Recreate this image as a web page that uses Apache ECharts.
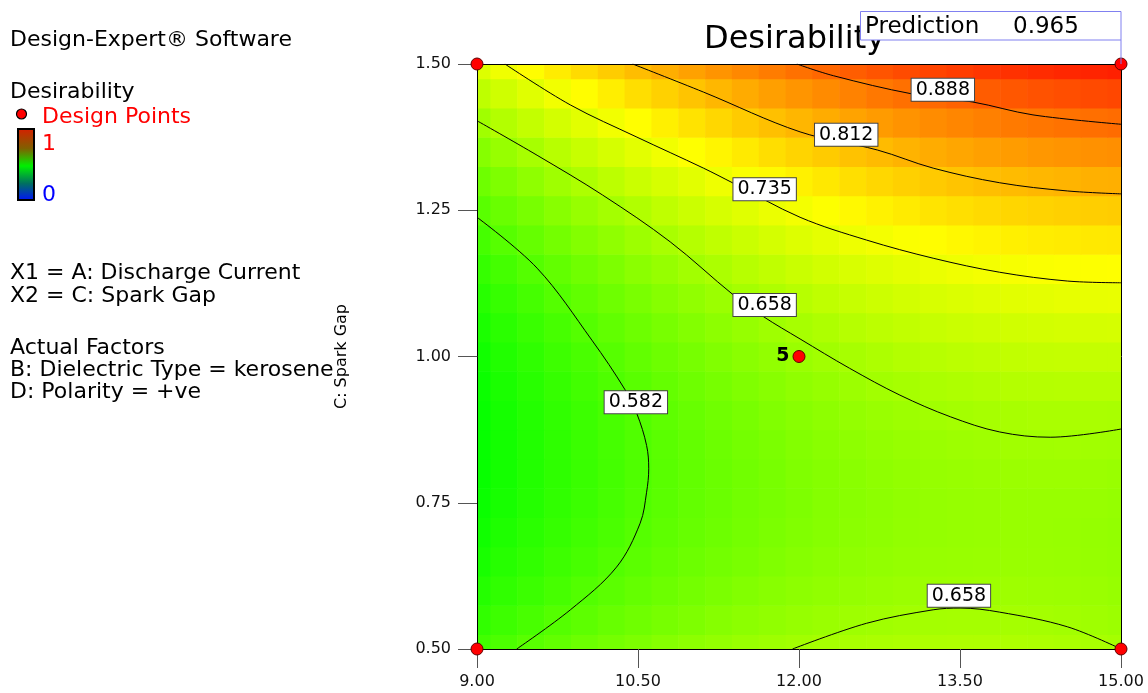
<!DOCTYPE html>
<html>
<head>
<meta charset="utf-8">
<script src="https://cdn.jsdelivr.net/npm/echarts@6/dist/echarts.min.js"></script>
<style>
html,body{margin:0;padding:0;background:#fff;}
#chart{width:1148px;height:693px;}
</style>
</head>
<body>
<div id="chart"></div>
<script>
// ---------- data ----------
const gridX = [9.00,9.25,9.50,9.75,10.00,10.25,10.50,10.75,11.00,11.25,11.50,11.75,12.00,12.25,12.50,12.75,13.00,13.25,13.50,13.75,14.00,14.25,14.50,14.75,15.00];
const gridY = [0.50,0.55,0.60,0.65,0.70,0.75,0.80,0.85,0.90,0.95,1.00,1.05,1.10,1.15,1.20,1.25,1.30,1.35,1.40,1.45,1.50];
// desirability estimated at each grid node; one row per gridY value (bottom to top)
const desirabilityRows = [
  [0.564,0.575,0.586,0.596,0.606,0.615,0.623,0.631,0.638,0.644,0.650,0.655,0.659,0.663,0.666,0.668,0.670,0.671,0.672,0.672,0.671,0.670,0.668,0.665,0.662],
  [0.548,0.560,0.571,0.582,0.591,0.601,0.609,0.617,0.624,0.631,0.637,0.642,0.647,0.651,0.655,0.657,0.660,0.661,0.662,0.662,0.662,0.661,0.659,0.656,0.653],
  [0.535,0.547,0.558,0.569,0.580,0.589,0.598,0.606,0.614,0.621,0.627,0.633,0.638,0.642,0.646,0.649,0.652,0.653,0.654,0.655,0.655,0.654,0.653,0.651,0.648],
  [0.524,0.537,0.548,0.560,0.570,0.580,0.589,0.598,0.606,0.613,0.619,0.625,0.631,0.636,0.640,0.643,0.646,0.648,0.649,0.650,0.650,0.650,0.649,0.647,0.645],
  [0.516,0.529,0.541,0.552,0.563,0.573,0.583,0.592,0.600,0.607,0.614,0.621,0.626,0.631,0.636,0.639,0.643,0.645,0.647,0.648,0.649,0.649,0.648,0.646,0.644],
  [0.510,0.523,0.535,0.547,0.558,0.569,0.579,0.588,0.597,0.604,0.612,0.618,0.624,0.630,0.634,0.638,0.642,0.645,0.647,0.648,0.649,0.649,0.649,0.648,0.646],
  [0.507,0.520,0.533,0.545,0.556,0.567,0.577,0.587,0.596,0.604,0.611,0.618,0.625,0.630,0.635,0.640,0.644,0.647,0.649,0.651,0.652,0.653,0.653,0.652,0.650],
  [0.506,0.519,0.532,0.545,0.557,0.568,0.578,0.588,0.597,0.606,0.614,0.621,0.628,0.634,0.639,0.644,0.648,0.651,0.654,0.656,0.658,0.658,0.659,0.658,0.657],
  [0.507,0.521,0.534,0.547,0.559,0.571,0.581,0.592,0.601,0.610,0.618,0.626,0.633,0.639,0.645,0.650,0.654,0.658,0.661,0.664,0.665,0.667,0.667,0.667,0.666],
  [0.511,0.525,0.539,0.552,0.565,0.576,0.587,0.598,0.608,0.617,0.625,0.633,0.641,0.647,0.653,0.659,0.663,0.668,0.671,0.674,0.676,0.677,0.678,0.678,0.678],
  [0.517,0.532,0.546,0.560,0.572,0.584,0.596,0.607,0.617,0.626,0.635,0.643,0.651,0.658,0.664,0.670,0.675,0.679,0.683,0.686,0.689,0.691,0.692,0.692,0.692],
  [0.526,0.541,0.556,0.569,0.582,0.595,0.607,0.618,0.628,0.638,0.647,0.656,0.664,0.671,0.678,0.684,0.689,0.694,0.698,0.701,0.704,0.706,0.708,0.708,0.709],
  [0.538,0.553,0.568,0.582,0.595,0.608,0.620,0.631,0.642,0.652,0.662,0.671,0.679,0.687,0.694,0.700,0.706,0.711,0.715,0.719,0.722,0.724,0.726,0.727,0.728],
  [0.552,0.567,0.582,0.596,0.610,0.623,0.636,0.647,0.659,0.669,0.679,0.688,0.697,0.705,0.712,0.718,0.724,0.730,0.735,0.739,0.742,0.745,0.747,0.748,0.749],
  [0.568,0.584,0.599,0.614,0.628,0.641,0.654,0.666,0.677,0.688,0.698,0.708,0.717,0.725,0.733,0.739,0.746,0.752,0.757,0.761,0.765,0.768,0.770,0.772,0.773],
  [0.587,0.603,0.618,0.633,0.648,0.661,0.674,0.687,0.699,0.710,0.720,0.730,0.739,0.748,0.756,0.763,0.770,0.776,0.781,0.786,0.790,0.793,0.796,0.798,0.800],
  [0.608,0.624,0.640,0.656,0.670,0.684,0.698,0.710,0.722,0.734,0.745,0.755,0.764,0.773,0.781,0.789,0.796,0.802,0.808,0.813,0.817,0.821,0.824,0.827,0.828],
  [0.631,0.648,0.664,0.680,0.695,0.709,0.723,0.736,0.749,0.760,0.771,0.782,0.792,0.801,0.810,0.817,0.825,0.831,0.837,0.843,0.847,0.852,0.855,0.858,0.860],
  [0.657,0.675,0.691,0.707,0.722,0.737,0.751,0.765,0.777,0.789,0.801,0.812,0.822,0.831,0.840,0.848,0.856,0.863,0.869,0.875,0.880,0.884,0.888,0.891,0.894],
  [0.686,0.703,0.720,0.737,0.752,0.767,0.782,0.795,0.808,0.821,0.832,0.844,0.854,0.864,0.873,0.882,0.890,0.897,0.904,0.910,0.915,0.920,0.924,0.927,0.930],
  [0.717,0.735,0.752,0.769,0.785,0.800,0.815,0.829,0.842,0.855,0.867,0.878,0.889,0.899,0.909,0.918,0.926,0.933,0.940,0.947,0.952,0.957,0.962,0.965,0.969]
];

// contour lines (in data units)
const contour888 = [[11.98,1.500],[12.32,1.480],[13.05,1.449],[13.62,1.435],[14.18,1.413],[15.00,1.397]];
const contour812 = [[10.45,1.500],[11.11,1.452],[12.01,1.384],[12.73,1.353],[13.25,1.322],[13.87,1.297],[14.50,1.283],[15.00,1.278]];
const contour735 = [[9.26,1.500],[9.87,1.430],[10.49,1.375],[11.11,1.322],[11.38,1.297],[12.01,1.238],[12.63,1.199],[13.25,1.168],[13.87,1.144],[14.50,1.129],[15.00,1.126]];
const contour658Upper = [[9.00,1.403],[9.56,1.344],[10.17,1.276],[10.80,1.196],[11.39,1.105],[11.67,1.068],[12.01,1.030],[12.47,0.980],[12.94,0.934],[13.41,0.897],[13.87,0.871],[14.34,0.862],[15.00,0.876]];
const contour582 = [[9.00,1.238],[9.56,1.151],[10.07,1.028],[10.38,0.943],[10.49,0.902],[10.58,0.848],[10.60,0.808],[10.58,0.768],[10.52,0.715],[10.30,0.640],[9.87,0.567],[9.37,0.500]];
const contour658Lower = [[11.94,0.500],[12.63,0.544],[13.25,0.567],[13.50,0.570],[13.87,0.563],[14.50,0.538],[15.00,0.500]];
const contourLines = [contour888, contour812, contour735, contour658Upper, contour582, contour658Lower];
const contourLabels = [
  [13.34,1.456,'0.888'],
  [12.44,1.379,'0.812'],
  [11.68,1.286,'0.735'],
  [11.68,1.088,'0.658'],
  [10.48,0.922,'0.582'],
  [13.49,0.591,'0.658']
];

const designPoints = [[9,0.5],[9,1.5],[15,0.5],[15,1.5],[12,1.0]];
const designPointReps = ['', '', '', '', '5'];

const xTickLabels = ['9.00','10.50','12.00','13.50','15.00'];
const yTickLabels = ['0.50','0.75','1.00','1.25','1.50'];

const predictionLabel = 'Prediction';
const predictionValue = '0.965';

const sideTexts = [
  'Design-Expert® Software',
  'Desirability',
  'X1 = A: Discharge Current',
  'X2 = C: Spark Gap',
  'Actual Factors',
  'B: Dielectric Type = kerosene',
  'D: Polarity = +ve'
];

// ---------- chart ----------
const FONT = '"DejaVu Sans", "Liberation Sans", sans-serif';
const cellW = 0.25, cellH = 0.05;

const heatData = [];
desirabilityRows.forEach((row, j) => {
  row.forEach((v, k) => heatData.push([gridX[k], gridY[j], v]));
});

const chart = echarts.init(document.getElementById('chart'), null, {renderer: 'canvas'});

function renderCell(params, api) {
  const x = api.value(0), y = api.value(1);
  const p0 = api.coord([x - cellW / 2, y + cellH / 2]);
  const p1 = api.coord([x + cellW / 2, y - cellH / 2]);
  const cs = params.coordSys;
  let x0 = Math.max(p0[0], cs.x), x1 = Math.min(p1[0] + 0.6, cs.x + cs.width);
  let y0 = Math.max(p0[1], cs.y), y1 = Math.min(p1[1] + 0.6, cs.y + cs.height);
  if (x1 <= x0 || y1 <= y0) return null;
  return {
    type: 'rect',
    shape: {x: x0, y: y0, width: x1 - x0, height: y1 - y0},
    style: {fill: api.visual('color')}
  };
}

const series = [];
series.push({
  type: 'custom',
  name: 'Desirability',
  data: heatData,
  encode: {x: 0, y: 1},
  renderItem: renderCell,
  silent: true,
  z: 1
});
contourLines.forEach(line => {
  series.push({
    type: 'line',
    data: line,
    smooth: 0.35,
    symbol: 'none',
    silent: true,
    clip: true,
    lineStyle: {color: '#000', width: 1},
    z: 3
  });
});
series.push({
  type: 'scatter',
  data: contourLabels.map(d => ({value: [d[0], d[1]], name: d[2]})),
  symbolSize: 0,
  silent: true,
  clip: false,
  z: 4,
  itemStyle: {opacity: 1},
  label: {
    show: true,
    position: 'inside',
    formatter: p => p.name,
    fontFamily: FONT,
    fontSize: 19,
    color: '#000',
    opacity: 1,
    backgroundColor: '#ffffff',
    borderColor: '#444',
    borderWidth: 1,
    padding: [2, 4, 1, 4]
  }
});
series.push({
  type: 'scatter',
  data: designPoints.map((d, i) => ({
    value: d,
    label: {show: designPointReps[i] !== '', formatter: designPointReps[i]}
  })),
  symbol: 'circle',
  symbolSize: 12,
  clip: false,
  silent: true,
  z: 8,
  itemStyle: {color: '#ff0000', borderColor: '#600000', borderWidth: 1, opacity: 1},
  label: {
    position: 'left',
    distance: 3,
    fontFamily: FONT,
    fontSize: 19,
    fontWeight: 'bold',
    color: '#000'
  }
});

const axisCommon = {
  type: 'value',
  z: 6,
  splitLine: {show: false},
  axisLine: {show: true, onZero: false, lineStyle: {color: '#000', width: 1}},
  axisTick: {show: true, inside: false, length: 19, lineStyle: {color: '#555', width: 1}},
  axisLabel: {fontFamily: FONT, fontSize: 16, color: '#111'}
};

const option = {
  backgroundColor: '#fff',
  animation: false,
  title: {
    text: 'Desirability',
    left: 704,
    top: 24,
    padding: 0,
    textStyle: {fontFamily: FONT, fontSize: 32, fontWeight: 'normal', color: '#000'}
  },
  grid: {left: 477, top: 64, right: 27, bottom: 44, containLabel: false},
  visualMap: {
    show: false,
    type: 'continuous',
    min: 0,
    max: 1,
    dimension: 2,
    seriesIndex: 0,
    inRange: {color: ['#0000ff', '#008080', '#00ff00', '#ffff00', '#ff0000']}
  },
  xAxis: [
    Object.assign({}, axisCommon, {
      min: 9, max: 15, interval: 1.5, position: 'bottom',
      axisLabel: Object.assign({}, axisCommon.axisLabel, {
        margin: 25,
        formatter: v => xTickLabels[Math.round((v - 9) / 1.5)]
      })
    }),
    {type: 'value', min: 9, max: 15, position: 'top', z: 6,
     axisLine: {show: true, onZero: false, lineStyle: {color: '#000', width: 1}},
     axisTick: {show: false}, axisLabel: {show: false}, splitLine: {show: false}}
  ],
  yAxis: [
    Object.assign({}, axisCommon, {
      min: 0.5, max: 1.5, interval: 0.25, position: 'left',
      name: 'C: Spark Gap',
      nameLocation: 'middle',
      nameGap: 127,
      nameRotate: 90,
      nameTextStyle: {fontFamily: FONT, fontSize: 16, color: '#000'},
      axisLabel: Object.assign({}, axisCommon.axisLabel, {
        margin: 26,
        formatter: v => yTickLabels[Math.round((v - 0.5) / 0.25)]
      })
    }),
    {type: 'value', min: 0.5, max: 1.5, position: 'right', z: 6,
     axisLine: {show: true, onZero: false, lineStyle: {color: '#000', width: 1}},
     axisTick: {show: false}, axisLabel: {show: false}, splitLine: {show: false}}
  ],
  series: series
};

chart.setOption(option);

// ---------- side panel, legend swatch and prediction flag ----------
const t21 = '22px ' + FONT;
const tip = chart.convertToPixel({xAxisIndex: 0, yAxisIndex: 0}, [15, 1.5]);
chart.setOption({
  graphic: [
    {type: 'text', left: 10, top: 29, style: {text: sideTexts[0], font: t21, fill: '#000'}},
    {type: 'text', left: 10, top: 81, style: {text: sideTexts[1], font: t21, fill: '#000'}},
    {type: 'circle', shape: {cx: 21.5, cy: 114, r: 5}, style: {fill: '#ff0000', stroke: '#000', lineWidth: 1.2}},
    {type: 'text', left: 42, top: 106, style: {text: 'Design Points', font: t21, fill: '#ff0000'}},
    {type: 'rect', shape: {x: 18, y: 129, width: 16, height: 71},
     style: {
       fill: new echarts.graphic.LinearGradient(0, 0, 0, 1, [
         {offset: 0, color: '#d81e00'},
         {offset: 0.28, color: '#806000'},
         {offset: 0.52, color: '#00f000'},
         {offset: 0.76, color: '#007060'},
         {offset: 1, color: '#0010ff'}
       ]),
       stroke: '#000', lineWidth: 2
     }},
    {type: 'text', left: 42, top: 133, style: {text: '1', font: t21, fill: '#ff0000'}},
    {type: 'text', left: 42, top: 184, style: {text: '0', font: t21, fill: '#0000ff'}},
    {type: 'text', left: 10, top: 262, style: {text: sideTexts[2], font: t21, fill: '#000'}},
    {type: 'text', left: 10, top: 285, style: {text: sideTexts[3], font: t21, fill: '#000'}},
    {type: 'text', left: 10, top: 337, style: {text: sideTexts[4], font: t21, fill: '#000'}},
    {type: 'text', left: 10, top: 359, style: {text: sideTexts[5], font: t21, fill: '#000'}},
    {type: 'text', left: 10, top: 381, style: {text: sideTexts[6], font: t21, fill: '#000'}},
    {type: 'line', z: 100, shape: {x1: tip[0], y1: 40, x2: tip[0], y2: tip[1]}, style: {stroke: '#8080f0', lineWidth: 1}},
    {type: 'rect', z: 100, shape: {x: 860.5, y: 11.5, width: tip[0] - 860.5, height: 28.5}, style: {fill: '#fff', stroke: '#8080f0', lineWidth: 1}},
    {type: 'text', z: 101, left: 865, top: 16, style: {text: predictionLabel, font: '23px ' + FONT, fill: '#000'}},
    {type: 'text', z: 101, left: 1013, top: 16, style: {text: predictionValue, font: '23px ' + FONT, fill: '#000'}}
  ]
});
</script>
</body>
</html>
